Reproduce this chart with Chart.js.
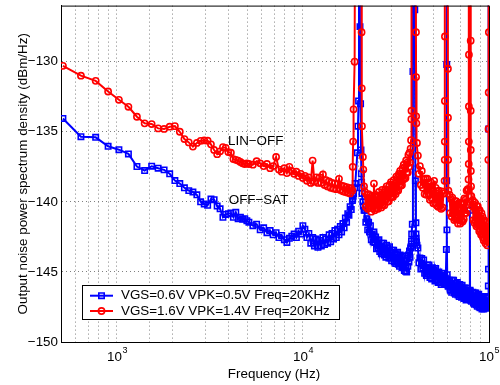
<!DOCTYPE html>
<html>
<head>
<meta charset="utf-8">
<script src="https://cdn.jsdelivr.net/npm/chart.js@4.4.0/dist/chart.umd.min.js"></script>
<style>
  html, body { margin: 0; padding: 0; background: #fff; }
  #wrap { width: 500px; height: 385px; }
</style>
</head>
<body>
<div id="wrap"><canvas id="psd" width="500" height="385"></canvas></div>
<script>
// FFT bins (Hz), denser around the harmonics
const freqHz = [
  512, 640, 768, 896, 1024, 1152, 1280, 1408, 1536, 1664, 1792, 1920, 2048, 2176, 2304, 2432, 2560, 2688, 2816, 2944, 3072,
  3200, 3328, 3456, 3584, 3712, 3840, 3968, 4096, 4224, 4352, 4480, 4608, 4736, 4864, 4992, 5120,
  5376, 5632, 5888, 6144, 6400, 6656, 6912, 7168, 7424, 7680, 7936, 8192, 8448, 8704, 8960, 9216, 9472, 9728, 9984,
  10240, 10496, 10752, 11008, 11264, 11520, 11776, 12032, 12288, 12544, 12800, 13056, 13312, 13568, 13824, 14080, 14336,
  14592, 14848, 15104, 15360, 15616, 15872, 16128, 16384, 16640, 16896, 17152, 17408, 17664, 17920, 18176, 18432,
  18500, 18600, 18700, 18950, 19100, 19600, 19750, 19900, 20000, 20250, 20400, 20500, 20600, 20650, 20700, 20750, 20992, 21100, 21300,
  21504, 21760, 22016, 22272, 22528, 22784, 23040, 23296, 23552, 23808, 24064, 24320, 24576, 24832, 25088, 25344, 25600,
  25856, 26112, 26368, 26624, 26880, 27136, 27392, 27648, 27904, 28160, 28416, 28672, 28928, 29184, 29440, 29696, 29952,
  30208, 30464, 30720, 30976, 31232, 31488, 31744, 32000, 32256, 32512, 32768, 33024, 33280, 33536, 33792, 34048, 34304,
  34560, 34816, 35072, 35328, 35584, 35840, 36096, 36352, 36608, 36864, 37120, 37376, 37632, 37888,
  38100, 38250, 38300, 38400, 38700, 39000, 39300, 39600, 39900, 40200, 40450, 40500, 40550, 40600, 40700, 41000,
  41472, 41984, 42496, 43008, 43520, 44032, 44544, 45056, 45568, 46080, 46592, 47104, 47616, 48128, 48640, 49152,
  49664, 50176, 50688, 51200, 51712, 52224, 52736, 53248, 53760, 54272, 54784, 55296, 55808, 56320, 56832,
  57400, 57700, 57800, 57850, 57900, 57950, 58000, 58500, 59000, 59200, 59250, 59300, 59400, 59600, 60100, 60150, 60200, 60300, 60500,
  61440, 61952, 62464, 62976, 63488, 64000, 64512, 65024, 65536, 66048, 66560, 67072, 67584, 68096, 68608, 69120,
  69632, 70144, 70656, 71168, 71680, 72192, 72704, 73216, 73728, 74240, 74752, 75264, 75776, 76288, 76800,
  77300, 77600, 77800, 77900, 77950, 78000, 78050, 78500, 78800, 79000, 79100, 79650, 79700, 79750, 79800, 79900, 80100, 80400, 81000,
  81920, 82432, 82944, 83456, 83968, 84480, 84992, 85504, 86016, 86528, 87040, 87552, 88064, 88576, 89088, 89600, 90112,
  90624, 91136, 91648, 92160, 92672, 93184, 93696, 94208, 94720, 95232, 95744, 96256, 96768, 97280, 97792, 98304,
  98800, 99200, 99400, 99600, 99800, 100000
];

// VGS=0.6V (OFF-SAT), dBm/Hz; peaks above the frame are just "off scale"
const offSatDb = [
  -134.05, -135.35, -135.4, -136.04, -136.28, -136.58, -137.48, -137.77, -137.46, -137.6, -137.72, -138.0, -138.48, -138.7, -139.0, -139.2, -139.3, -139.5, -140.0, -140.15, -140.25,
  -139.8, -139.85, -140.3, -140.5, -141.1, -140.9, -140.85, -140.8, -141.1, -140.75, -141.2, -141.1, -141.25, -141.2, -141.35, -141.45,
  -141.7, -141.6, -142.0, -141.85, -142.2, -142.05, -142.35, -142.2, -142.55, -142.4, -142.7, -142.9, -142.6, -142.45, -142.3, -142.55, -142.1, -142.3, -141.7,
  -141.95, -142.55, -142.25, -142.95, -142.55, -143.15, -142.65, -143.25, -142.75, -143.15, -142.55, -143.05, -142.65, -142.95, -142.35, -142.85, -142.25,
  -142.65, -142.05, -142.55, -141.95, -142.35, -141.75, -142.15, -141.55, -141.85, -141.15, -141.45, -140.85, -140.95, -140.35, -140.55, -139.9,
  -139.8, -139.6, -139.4, -139.0, -138.7, -136.5, -134.6, -132.8, -112, -127.5, -133.0, -136.3, -138.0, -138.6, -139.0, -139.4, -140.0, -140.3, -140.6,
  -140.6, -141.45, -141.2, -142.0, -141.45, -142.15, -141.7, -142.7, -142.3, -142.85, -142.15, -142.9, -142.5, -143.35, -142.75, -143.3, -142.7,
  -143.55, -143.15, -143.7, -142.95, -143.6, -142.95, -143.8, -143.3, -143.95, -143.1, -143.75, -143.3, -144.0, -143.2, -144.0, -143.6, -144.2,
  -143.45, -144.0, -143.45, -144.3, -143.7, -144.4, -143.7, -144.3, -143.6, -144.45, -144.0, -144.6, -143.8, -144.4, -143.95, -144.7, -143.85,
  -144.65, -144.2, -144.9, -144.2, -144.95, -144.6, -145.0, -144.05, -144.6, -143.8, -144.3, -143.5, -143.95, -143.3,
  -143.2, -143.0, -142.8, -142.3, -141.6, -130.7, -112, -112, -126.3, -138.5, -141.5, -142.3, -142.6, -142.8, -142.9, -143.1,
  -143.3, -144.35, -144.0, -144.8, -144.05, -144.75, -144.15, -145.1, -144.65, -145.25, -144.5, -145.15, -144.5, -145.4, -144.85, -145.5,
  -144.7, -145.3, -144.85, -145.65, -144.75, -145.55, -145.1, -145.75, -145.0, -145.75, -145.3, -145.9, -145.1, -145.8, -145.25,
  -145.4, -145.8, -145.5, -145.9, -145.5, -145.8, -145.6, -145.9, -143.4, -138.5, -130.2, -120, -142.0, -145.2, -145.8, -145.6, -146.0, -145.7, -146.0,
  -145.6, -146.3, -145.8, -146.45, -145.6, -146.3, -145.6, -146.5, -146.0, -146.6, -145.8, -146.5, -145.75, -146.65, -146.05, -146.75,
  -145.9, -146.5, -146.05, -146.8, -145.95, -146.7, -146.25, -146.9, -146.15, -146.85, -146.4, -147.0, -146.15, -146.9, -146.3,
  -146.5, -146.9, -146.4, -146.8, -146.5, -146.9, -146.5, -146.8, -146.4, -140.6, -146.3, -146.9, -146.5, -147.0, -146.6, -147.0, -146.6, -147.1, -146.7,
  -146.45, -147.2, -146.75, -147.3, -146.5, -147.15, -146.5, -147.35, -146.85, -147.45, -146.65, -147.35, -146.6, -147.5, -146.9, -147.55, -146.75,
  -147.35, -146.85, -147.65, -146.75, -147.5, -147.0, -147.65, -146.85, -147.55, -147.1, -147.6, -146.75, -147.45, -146.8, -147.5, -146.85,
  -147.2, -146.0, -144.8, -134.8, -125.0, -112
];

// VGS=1.6V (LIN-OFF)
const linOffDb = [
  -130.3, -131.0, -131.37, -132.13, -132.72, -133.22, -133.93, -134.4, -134.45, -134.76, -134.8, -134.64, -134.6, -135.0, -135.52, -135.76, -136.06, -135.8, -135.65, -135.62, -135.64,
  -135.9, -136.3, -136.6, -136.4, -136.1, -136.15, -136.45, -136.5, -136.95, -137.0, -137.06, -137.15, -137.25, -137.3, -137.25, -137.3,
  -137.35, -137.1, -137.25, -137.45, -137.3, -137.6, -137.45, -136.8, -137.7, -137.85, -137.6, -137.95, -137.5, -137.8, -138.0, -137.85, -138.15, -138.0, -138.3,
  -138.15, -138.5, -138.25, -138.65, -137.06, -138.55, -138.25, -138.65, -138.25, -138.65, -138.05, -138.8, -138.45, -138.9, -138.55, -139.0, -138.65,
  -139.05, -138.7, -139.1, -138.75, -138.36, -139.15, -138.85, -139.25, -138.9, -139.3, -138.95, -139.35, -139.0, -139.4, -139.05, -139.2,
  -137.5, -135.7, -133.4, -130.0, -112, -112, -112, -112, -112, -112, -112, -112, -112, -127.9, -131.9, -134.6, -136.8, -137.7, -138.9,
  -139.3, -140.35, -139.5, -140.5, -139.45, -140.4, -139.9, -140.7, -139.55, -140.45, -138.7, -140.6, -139.5, -140.45, -139.6, -140.5, -139.3,
  -140.25, -139.6, -140.4, -139.15, -140.2, -139.35, -140.25, -139.1, -139.85, -138.9, -140.0, -139.15, -139.95, -138.8, -139.65, -138.6, -139.65,
  -138.8, -139.65, -138.45, -139.35, -138.7, -139.45, -138.2, -139.2, -138.3, -139.2, -138.0, -138.75, -137.8, -138.85, -138.0, -138.8, -137.6,
  -138.4, -137.35, -138.35, -137.5, -138.3, -137.05, -137.9, -137.2, -137.9, -136.65, -137.5, -136.5, -137.2, -136.2,
  -135.6, -134.1, -133.5, -112, -112, -112, -112, -112, -112, -112, -112, -127.9, -131.1, -133.9, -134.4, -135.8,
  -136.7, -138.0, -137.45, -138.8, -137.8, -139.0, -138.4, -139.45, -138.35, -139.5, -138.35, -139.4, -138.65, -139.85, -138.6, -139.75,
  -139.15, -140.1, -138.5, -140.05, -139.0, -140.25, -139.25, -140.35, -139.2, -140.25, -139.5, -140.5, -139.25, -140.4, -139.4,
  -139.4, -138.5, -137.0, -135.7, -132.8, -128.2, -112, -112, -112, -112, -112, -112, -112, -112, -112, -130.5, -134.0, -137.0, -139.2,
  -139.5, -140.8, -139.8, -141.05, -139.7, -140.85, -140.2, -141.3, -139.95, -141.2, -139.95, -141.05, -140.25, -141.55, -140.1, -141.3,
  -140.55, -141.55, -140.05, -141.35, -140.15, -141.4, -140.15, -141.25, -139.75, -140.8, -139.85, -140.8, -139.2, -140.2, -139.1,
  -139.2, -138.4, -137.3, -135.7, -133.2, -129.5, -112, -112, -112, -112, -112, -112, -128.5, -133.5, -136.3, -137.8, -138.9, -139.6, -140.3,
  -139.9, -141.3, -140.2, -141.5, -140.05, -141.3, -140.55, -141.75, -140.3, -141.65, -140.3, -141.55, -140.65, -142.1, -140.6, -142.0, -141.2,
  -142.35, -140.8, -142.25, -141.05, -142.55, -141.35, -142.75, -141.3, -142.6, -141.7, -142.95, -141.45, -142.8, -141.8, -143.1, -141.95,
  -142.8, -137.0, -134.8, -132.2, -127.9, -112
];

const seriesLabels = ['VGS=0.6V VPK=0.5V Freq=20KHz', 'VGS=1.6V VPK=1.4V Freq=20KHz'];
const decadeTicks = [1000, 10000, 100000];
const notes = [
  { text: 'LIN\u2212OFF', f: 3950, db: -135.65 },
  { text: 'OFF\u2212SAT', f: 3990, db: -139.9 }
];
const xTitle = 'Frequency (Hz)';
const yTitle = 'Output noise power spectrum density (dBm/Hz)';

const BLUE = '#0000ff';
const RED = '#ff0000';
const FONT = '13.4px "Liberation Sans", Arial, sans-serif';
const SUP_FONT = '9px "Liberation Sans", Arial, sans-serif';

const toPoints = (vals) => freqHz.map((f, i) => ({ x: f, y: vals[i] }));

function marker(ctx, style, x, y, color) {
  ctx.strokeStyle = color;
  ctx.lineWidth = 1.6;
  ctx.beginPath();
  if (style === 'rect') ctx.rect(x - 2.7, y - 2.7, 5.4, 5.4);
  else ctx.arc(x, y, 3.1, 0, Math.PI * 2);
  ctx.stroke();
}

const frame = {
  id: 'frame',
  afterDraw(chart) {
    const { ctx, chartArea: a, scales: { x, y } } = chart;
    ctx.save();
    ctx.strokeStyle = '#000';
    ctx.lineWidth = 1;
    ctx.beginPath();
    ctx.moveTo(a.left, a.top + 0.5);
    ctx.lineTo(a.right + 0.5, a.top + 0.5);
    ctx.lineTo(a.right + 0.5, a.bottom);
    ctx.stroke();

    ctx.fillStyle = '#000';
    // decade labels 10^n
    decadeTicks.forEach((v) => {
      const exp = String(Math.round(Math.log10(v)));
      ctx.font = FONT;
      const w1 = ctx.measureText('10').width;
      ctx.font = SUP_FONT;
      const w2 = ctx.measureText(exp).width;
      const left = x.getPixelForValue(v) - (w1 + w2) / 2;
      ctx.textAlign = 'left';
      ctx.textBaseline = 'middle';
      ctx.font = FONT;
      ctx.fillText('10', left, a.bottom + 15);
      ctx.font = SUP_FONT;
      ctx.fillText(exp, left + w1 + 0.5, a.bottom + 9);
    });

    ctx.font = FONT;
    ctx.textAlign = 'center';
    ctx.textBaseline = 'middle';
    ctx.fillText(xTitle, (a.left + a.right) / 2 - 1, a.bottom + 32);
    ctx.save();
    ctx.translate(23, (a.top + a.bottom) / 2);
    ctx.rotate(-Math.PI / 2);
    ctx.fillText(yTitle, 0, 0);
    ctx.restore();

    // labels on the curves
    ctx.textAlign = 'left';
    notes.forEach((n) => ctx.fillText(n.text, x.getPixelForValue(n.f), y.getPixelForValue(n.db)));

    // legend box
    const lx = a.left + 21.5, ly = a.bottom - 56.5;
    ctx.fillStyle = '#fff';
    ctx.fillRect(lx, ly, 257, 34);
    ctx.strokeStyle = '#000';
    ctx.lineWidth = 1;
    ctx.strokeRect(lx, ly, 257, 34);
    const rows = [
      { label: seriesLabels[0], color: BLUE, style: 'rect', yy: ly + 10.2 },
      { label: seriesLabels[1], color: RED, style: 'circle', yy: ly + 25.5 }
    ];
    rows.forEach((r) => {
      ctx.strokeStyle = r.color;
      ctx.lineWidth = 2;
      ctx.beginPath();
      ctx.moveTo(lx + 7.5, r.yy);
      ctx.lineTo(lx + 30.5, r.yy);
      ctx.stroke();
      marker(ctx, r.style, lx + 19, r.yy, r.color);
      ctx.fillStyle = '#000';
      ctx.font = FONT;
      ctx.textBaseline = 'middle';
      ctx.fillText(r.label, lx + 38.5, r.yy);
    });
    ctx.restore();
  }
};

const gridStyle = { color: '#808080', lineWidth: 1, drawTicks: false };
const borderStyle = { display: true, color: '#000', width: 1, dash: [1, 3] };

new Chart(document.getElementById('psd'), {
  type: 'line',
  data: {
    datasets: [
      {
        label: seriesLabels[0], data: toPoints(offSatDb), order: 1, clip: 0,
        borderColor: BLUE, borderWidth: 2, tension: 0,
        pointStyle: 'rect', pointRadius: 3.8, pointBorderWidth: 1.6,
        pointBorderColor: BLUE, pointBackgroundColor: 'rgba(0,0,0,0)'
      },
      {
        label: seriesLabels[1], data: toPoints(linOffDb), order: 0, clip: 0,
        borderColor: RED, borderWidth: 2, tension: 0,
        pointStyle: 'circle', pointRadius: 3.1, pointBorderWidth: 1.6,
        pointBorderColor: RED, pointBackgroundColor: 'rgba(0,0,0,0)'
      }
    ]
  },
  options: {
    responsive: false,
    animation: false,
    devicePixelRatio: 1,
    events: [],
    layout: { padding: { left: 0, right: 11, top: 4, bottom: 0 } },
    plugins: { legend: { display: false }, tooltip: { enabled: false } },
    scales: {
      x: {
        type: 'logarithmic', min: 500, max: 100000,
        ticks: { display: false, autoSkip: false },
        grid: gridStyle, border: borderStyle,
        afterFit: (s) => { s.height = 43; s.paddingLeft = 0; s.paddingRight = 0; }
      },
      y: {
        min: -150, max: -126,
        ticks: {
          stepSize: 5, includeBounds: false, padding: 3, color: '#000',
          font: { family: '"Liberation Sans", Arial, sans-serif', size: 13.4 },
          callback: (v) => '\u2212' + Math.abs(v)
        },
        grid: gridStyle, border: borderStyle,
        afterFit: (s) => { s.width = 61; s.paddingTop = 0; s.paddingBottom = 0; }
      }
    }
  },
  plugins: [frame]
});
</script>
</body>
</html>
